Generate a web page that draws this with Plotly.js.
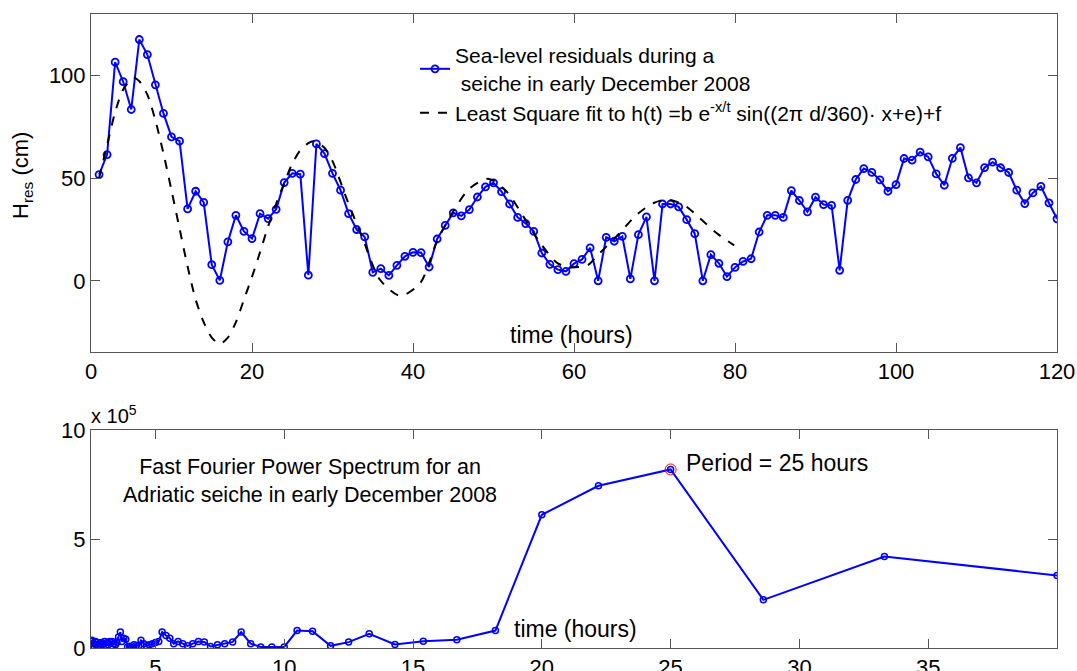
<!DOCTYPE html>
<html>
<head>
<meta charset="utf-8">
<script src="https://cdn.plot.ly/plotly-3.0.1.min.js"></script>
<style>html,body{margin:0;padding:0;background:#fff;}#chart{width:1077px;height:671px;}</style>
</head>
<body>
<div id="chart"></div>
<script>
// ---- Top panel: hourly sea-level residuals (cm), hours 1..120 ----
const hours = [1,2,3,4,5,6,7,8,9,10,11,12,13,14,15,16,17,18,19,20,21,22,23,24,25,26,27,28,29,30,
  31,32,33,34,35,36,37,38,39,40,41,42,43,44,45,46,47,48,49,50,51,52,53,54,55,56,57,58,59,60,
  61,62,63,64,65,66,67,68,69,70,71,72,73,74,75,76,77,78,79,80,81,82,83,84,85,86,87,88,89,90,
  91,92,93,94,95,96,97,98,99,100,101,102,103,104,105,106,107,108,109,110,111,112,113,114,115,116,117,118,119,120];
const residuals = [51.7,61.4,106.3,96.8,83.3,117.3,110,95.3,81.4,70,67.9,35,43.6,38.2,7.9,0.3,19,31.9,24.1,20.6,32.7,30.3,34.8,47.8,52.3,51.9,2.8,66.6,61.9,52.3,
  44.1,32.7,25.0,21.4,4.2,6.0,2.7,7.6,12.0,13.9,13.8,6.8,20.4,27.0,33.1,31.6,34.7,40.8,45.7,47.7,43.4,37.4,30.9,27.9,24.1,13.6,8.1,5.5,4.7,8.4,
  10.5,16.1,0.1,21.2,19.3,21.7,1.0,22.5,31.1,0.1,37.4,37.4,36.0,29.8,23.0,0.1,12.8,8.6,2.1,6.6,9.5,10.8,23.8,31.9,31.9,30.9,43.9,39.1,33.6,40.7,
  37.1,36.7,5.2,39.2,49.3,54.6,52.8,49.1,43.6,46.8,59.5,58.7,62.6,60.3,52.0,46.5,59.6,64.8,50.1,47.7,55.1,57.7,55.0,52.7,44.1,37.6,42.8,46.0,37.9,30.2];

// Least-square fit curve
const fitHours = [1,2,3,4,5.3,6,7,8,9,10,11,12,13,14,15,16,17,18,19,20,21,22,23,24,25,26,27,27.6,29,30,
  31.8,33.8,35.9,38.4,40.9,42.9,45,47.1,49.4,51.6,53.7,55.8,57.9,59.5,61.8,62.8,65.3,67.8,69.9,71.5,73.6,75.6,77.7,79.9];
const fitValues = [50,66,82,93,98.7,97,90.5,78,62,44,25.5,7,-9,-20,-27.5,-30.5,-27.5,-20,-9,2,14,26.5,37.5,47.5,57,63.5,67,67.9,64.7,58.2,
  39.5,20.1,0.6,-7.2,-1.0,18.5,33.9,45.2,49.6,43.6,31.4,18.5,8.8,6.6,7.9,12,21.7,32.2,37.9,39.5,37.1,30.6,23.3,17.3];

// ---- Bottom panel: FFT power spectrum (units of 1e5) vs period (hours) ----
const periods = [40,33.3,28.6,25,22.2,20,18.2,16.7,15.4,14.3,13.3,12.5,11.8,11.1,10.5,10,9.52,9.09,8.70,8.33,
  8.0,7.69,7.41,7.14,6.90,6.67,6.45,6.25,6.06,5.88,5.71,5.56,5.41,5.26,5.13,5.0,4.88,4.76,4.65,4.55,
  4.44,4.35,4.26,4.17,4.08,4.0,3.92,3.85,3.77,3.70,3.64,3.57,3.51,3.45,3.39,3.33,3.28,3.23,3.17,3.13,
  3.08,3.03,2.99,2.94,2.90,2.86,2.82,2.78,2.74,2.70,2.67,2.63,2.60,2.56,2.53,2.50];
const power = [3.33,4.2,2.21,8.19,7.44,6.11,0.80,0.38,0.31,0.16,0.65,0.27,0.10,0.77,0.80,0.05,0.05,0.05,0.2,0.73,
  0.28,0.2,0.15,0.07,0.28,0.3,0.2,0.1,0.2,0.3,0.2,0.45,0.57,0.73,0.3,0.25,0.2,0.15,0.1,0.2,
  0.35,0.1,0.12,0.15,0.05,0.08,0.05,0.4,0.45,0.3,0.73,0.5,0.25,0.15,0.2,0.3,0.25,0.3,0.15,0.25,
  0.1,0.3,0.2,0.15,0.25,0.05,0.2,0.1,0.25,0.15,0.3,0.05,0.2,0.1,0.35,0.3];
const peakPeriod = [25];
const peakPower = [8.19];

const topXTicks = [0,20,40,60,80,100,120];
const topYTicks = [0,50,100];
const botXTicks = [5,10,15,20,25,30,35];
const botYTicks = [0,5,10];

const W = 1077, H = 671;
const px = v => v / W;
const py = v => 1 - v / H;
const FONT = 'Liberation Sans, Arial, sans-serif';
const BLUE = '#0000ff';

const traces = [
  {x: hours, y: residuals, xaxis: 'x', yaxis: 'y', type: 'scatter', mode: 'lines+markers',
   name: 'Sea-level residuals during a<br> seiche in early December 2008',
   line: {color: BLUE, width: 2},
   marker: {symbol: 'circle-open', size: 7, color: BLUE, line: {width: 1.8, color: BLUE}}},
  {x: fitHours, y: fitValues, xaxis: 'x', yaxis: 'y', type: 'scatter', mode: 'lines',
   name: 'Least Square fit to h(t) =b e<sup>-x/t</sup> sin((2π d/360)· x+e)+f',
   line: {color: '#000', width: 2, dash: 'dash', shape: 'spline', smoothing: 0.8}},
  {x: periods, y: power, xaxis: 'x2', yaxis: 'y2', type: 'scatter', mode: 'lines+markers',
   showlegend: false, line: {color: BLUE, width: 2},
   marker: {symbol: 'circle-open', size: 6, color: BLUE, line: {width: 1.5, color: BLUE}}},
  {x: peakPeriod, y: peakPower, xaxis: 'x2', yaxis: 'y2', type: 'scatter', mode: 'markers',
   showlegend: false,
   marker: {symbol: 'circle-open', size: 11, color: '#ff0000', line: {width: 1, color: '#ff0000'}}}
];

const axisCommon = {
  showline: true, linecolor: '#555', linewidth: 1, mirror: 'allticks',
  ticks: 'inside', ticklen: 9, tickcolor: '#555', tickwidth: 1,
  showgrid: false, zeroline: false,
  tickfont: {family: FONT, size: 22, color: '#000'}
};

const ann = (x, y, text, size, extra) => Object.assign({
  xref: 'paper', yref: 'paper', x: px(x), y: py(y), text: text, showarrow: false,
  xanchor: 'center', yanchor: 'middle', font: {family: FONT, size: size, color: '#000'}
}, extra || {});

const layout = {
  width: W, height: H,
  margin: {l: 0, r: 0, t: 0, b: 0},
  paper_bgcolor: '#fff', plot_bgcolor: '#fff',
  font: {family: FONT, color: '#000'},
  showlegend: true,
  legend: {x: px(415), y: py(35), xanchor: 'left', yanchor: 'top',
           bgcolor: 'rgba(0,0,0,0)', font: {family: FONT, size: 21, color: '#000'},
           tracegroupgap: 0, itemwidth: 30},
  xaxis: Object.assign({}, axisCommon, {domain: [px(91), px(1057)], range: [0, 120],
    tickvals: topXTicks, anchor: 'y'}),
  yaxis: Object.assign({}, axisCommon, {domain: [py(352), py(14)], range: [-34.5, 129.7],
    tickvals: topYTicks, anchor: 'x'}),
  xaxis2: Object.assign({}, axisCommon, {domain: [px(91), px(1057)], range: [2.5, 40],
    tickvals: botXTicks, anchor: 'y2'}),
  yaxis2: Object.assign({}, axisCommon, {domain: [py(648), py(430)], range: [0, 10],
    tickvals: botYTicks, anchor: 'x2'}),
  annotations: [
    ann(22, 176, 'H<sub>res</sub> (cm)', 22, {textangle: -90}),
    ann(571, 335, 'time (hours)', 23),
    ann(575, 629, 'time (hours)', 23),
    ann(89, 414, 'x 10<sup>5</sup>', 20, {xanchor: 'left'}),
    ann(310, 481, 'Fast Fourier Power Spectrum for an<br>Adriatic seiche in early December 2008', 21.5, {align: 'center'}),
    ann(684, 463, 'Period = 25 hours', 23, {xanchor: 'left'})
  ]
};

Plotly.newPlot('chart', traces, layout, {displayModeBar: false, staticPlot: true});
</script>
</body>
</html>
